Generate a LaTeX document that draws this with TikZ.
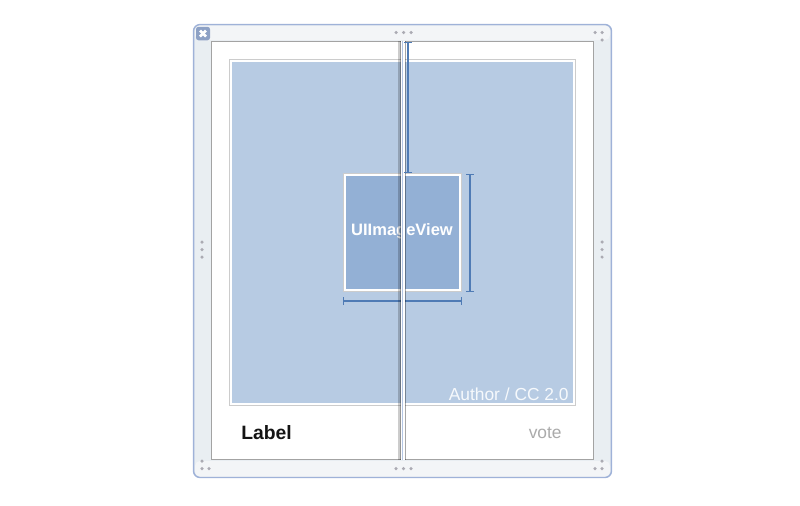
\documentclass[tikz,border=0pt]{standalone}
\usepackage{fontspec}
\setmainfont{Liberation Sans}
\usetikzlibrary{arrows.meta}
\definecolor{framefill}{HTML}{E9EEF2}
\definecolor{frameband}{HTML}{F3F5F7}
\definecolor{frameedge}{HTML}{9FB2D8}
\definecolor{cellline}{HTML}{A3A3A3}
\definecolor{photofill}{HTML}{B7CBE3}
\definecolor{imagefill}{HTML}{93B0D5}
\definecolor{dimline}{HTML}{4F7BB5}
\definecolor{dotgray}{HTML}{ABABB3}
\definecolor{closefill}{HTML}{8DA1C5}
\definecolor{barcolor}{HTML}{B4C6E4}
\tikzset{
    framebox/.style={draw=frameedge, line width=0.03cm, fill=framefill, rounded corners=0.13cm, minimum width=8.36cm, minimum height=9.06cm},
    cellbox/.style={draw=cellline, line width=0.03cm, fill=white, minimum width=7.64cm, minimum height=8.36cm},
    photobox/.style={draw=white, line width=0.04cm, fill=photofill, minimum width=6.86cm, minimum height=6.86cm},
    imagebox/.style={draw=white, line width=0.035cm, fill=imagefill, minimum width=2.3cm, minimum height=2.3cm},
    closebox/.style={draw=none, fill=closefill, rounded corners=0.05cm, minimum width=0.28cm, minimum height=0.27cm},
    halo/.style={draw=cellline!55, line width=0.02cm},
    dimbar/.style={draw=dimline, line width=0.022cm, {Bar[width=0.16cm,line width=0.022cm]}-{Bar[width=0.16cm,line width=0.022cm]}},
    griphole/.style={circle, fill=dotgray, minimum size=0.07cm},
    barstrip/.style={minimum height=8.4cm},
    every node/.append style={inner sep=0pt}
}
\begin{document}
\begin{tikzpicture}[x=0.02cm, y=-0.02cm]
    \useasboundingbox (0,0) rectangle (800,505);
    \node [framebox] (frame) at (402.5,251) {};
    \fill [frameband, rounded corners=0.1cm] (195,25.5) rectangle (610,40);
    \fill [frameband, rounded corners=0.1cm] (195,461) rectangle (610,476.5);
    \node [cellbox] (cell) at (402.5,250.5) {};
    \node [photobox, halo] (photohalo) at (402.5,232.5) [minimum width=6.92cm, minimum height=6.92cm] {};
    \node [photobox] (photo) at (402.5,232.5) {};
    \node [imagebox, halo] (imagehalo) at (402.5,232.5) [minimum width=2.35cm, minimum height=2.35cm] {};
    \node [imagebox] (image) at (402.5,232.5) {};
    \node [text=white, font=\bfseries\fontsize{9.4pt}{11pt}\selectfont] (imagetext) at (402,231) {UIImageView};
    \node [text=white!88!photofill, anchor=east, font=\fontsize{9.9pt}{12pt}\selectfont] (credit) at (569,394.5) {Author / CC 2.0};
    \node [text=black!92, anchor=west, font=\bfseries\fontsize{11pt}{13pt}\selectfont] (label) at (241,432.5) {Label};
    \node [text=black!33, anchor=east, font=\fontsize{9.9pt}{12pt}\selectfont] (vote) at (562,433) {vote};
    \coordinate (hleft) at (343,301);
    \coordinate (hright) at (462,301);
    \coordinate (vtop) at (470,174);
    \coordinate (vbot) at (470,292);
    \coordinate (gaptop) at (408,42);
    \coordinate (gapbot) at (408,173);
    \draw [dimbar] (hleft) -- (hright);
    \draw [dimbar] (vtop) -- (vbot);
    \node [barstrip, fill=black, fill opacity=0.2, minimum width=0.06cm] (shadeleft) at (399,250.5) {};
    \node [barstrip, fill=black, fill opacity=0.28, minimum width=0.03cm] (edgeleft) at (400.5,250.5) {};
    \node [barstrip, fill=white, minimum width=0.07cm] (bar) at (403,250.5) {};
    \node [barstrip, fill=barcolor, minimum width=0.02cm] (barcore) at (402.5,250.5) {};
    \node [barstrip, fill=black, fill opacity=0.35, minimum width=0.025cm] (edgeright) at (405.3,250.5) {};
    \draw [dimbar] (gaptop) -- (gapbot);
    \node [closebox] (close) at (203,33.5) {};
    \draw [white, line width=0.05cm] (close.center) ++(-3,-3) -- ++(6,6);
    \draw [white, line width=0.05cm] (close.center) ++(-3,3) -- ++(6,-6);
    \foreach \x/\y in {396/32.5, 403.5/32.5, 411/32.5, 595/32.5, 602/32.5, 602/40,
                       202/242, 202/249.5, 202/257, 602/242, 602/249.5, 602/257,
                       202/461, 202/468.5, 209/468.5, 396/468.5, 403.5/468.5, 411/468.5,
                       602/461, 595/468.5, 602/468.5}
        \node [griphole] at (\x,\y) {};
\end{tikzpicture}
\end{document}
